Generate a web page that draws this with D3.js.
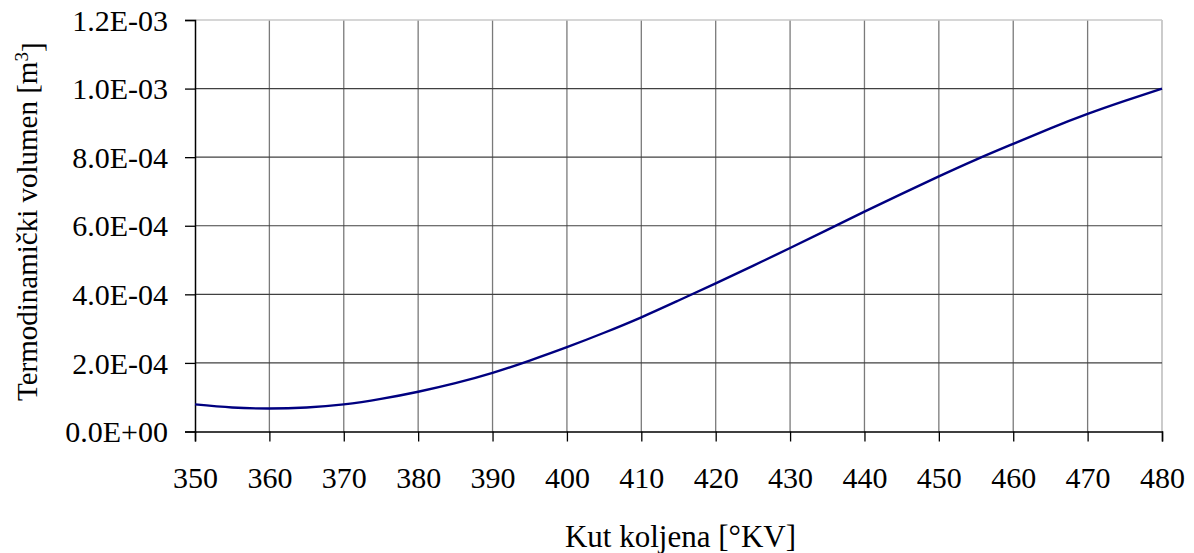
<!DOCTYPE html>
<html>
<head>
<meta charset="utf-8">
<script src="https://cdnjs.cloudflare.com/ajax/libs/d3/7.8.5/d3.min.js"></script>
<style>
  body { margin: 0; background: #fff; }
  text { font-family: "Liberation Serif", "Times New Roman", serif; fill: #000; }
</style>
</head>
<body>
<div id="chart"></div>
<script>
// crank angle [°KV]
const angles = [350, 355, 360, 365, 370, 375, 380, 385, 390, 395, 400, 405, 410, 415,
                420, 425, 430, 435, 440, 445, 450, 455, 460, 465, 470, 475, 480];
// thermodynamic volume [m3]
const volumes = [7.9e-5, 7.0e-5, 6.7e-5, 7.0e-5, 7.9e-5, 9.5e-5, 1.16e-4, 1.41e-4, 1.71e-4,
                 2.07e-4, 2.46e-4, 2.88e-4, 3.33e-4, 3.82e-4, 4.32e-4, 4.83e-4, 5.35e-4,
                 5.88e-4, 6.41e-4, 6.93e-4, 7.44e-4, 7.93e-4, 8.39e-4, 8.84e-4, 9.26e-4,
                 9.64e-4, 1.0e-3];
const xTicks = d3.range(350, 481, 10);
const yTicks = [0, 2e-4, 4e-4, 6e-4, 8e-4, 1.0e-3, 1.2e-3];

const width = 1194, height = 553;
const margin = {top: 20, right: 32, bottom: 122, left: 195};

const svg = d3.select("#chart").append("svg")
    .attr("width", width)
    .attr("height", height);

const x = d3.scaleLinear().domain([350, 480]).range([margin.left, width - margin.right]);
const y = d3.scaleLinear().domain([0, 1.2e-3]).range([height - margin.bottom + 0.5, margin.top]);

const fmt = v => {
    const [m, e] = v.toExponential(1).split("e");
    const n = +e;
    return m + "E" + (n < 0 ? "-" : "+") + String(Math.abs(n)).padStart(2, "0");
};

// vertical grid
svg.append("g")
    .selectAll("line")
    .data(xTicks.slice(1))
    .enter().append("line")
    .attr("x1", d => x(d)).attr("x2", d => x(d))
    .attr("y1", y(1.2e-3)).attr("y2", y(0))
    .style("stroke", d => d === 480 ? "#b0b0b0" : "#7a7a7a")
    .style("stroke-width", 1.3);

// horizontal grid
svg.append("g")
    .selectAll("line")
    .data(yTicks.slice(1))
    .enter().append("line")
    .attr("x1", x(350)).attr("x2", x(480))
    .attr("y1", d => y(d)).attr("y2", d => y(d))
    .style("stroke", d => d === 1.2e-3 ? "#c8c8c8" : "#404040")
    .style("stroke-width", d => d === 1.2e-3 ? 1.5 : 1.2);

// axes
const xAxis = svg.append("g")
    .attr("transform", `translate(0,${y(0)})`)
    .call(d3.axisBottom(x).tickValues(xTicks).tickSize(10).tickPadding(25).tickFormat(d3.format("d")));
const yAxis = svg.append("g")
    .attr("transform", `translate(${x(350)},0)`)
    .call(d3.axisLeft(y).tickValues(yTicks).tickSize(10).tickPadding(17).tickFormat(fmt));

[xAxis, yAxis].forEach(a => {
    a.select(".domain").style("stroke", "#000").style("stroke-width", 1.5);
    a.selectAll(".tick line").style("stroke", "#000").style("stroke-width", 1.3);
    a.selectAll(".tick text")
        .style("font-family", "'Liberation Serif', 'Times New Roman', serif")
        .style("font-size", "30px")
        .style("fill", "#000");
});
yAxis.selectAll(".tick text").attr("dy", "0.34em");

// curve
const line = d3.line()
    .x((d, i) => x(angles[i]))
    .y(d => y(d))
    .curve(d3.curveNatural);

svg.append("path")
    .datum(volumes)
    .attr("d", line)
    .style("fill", "none")
    .style("stroke", "#000080")
    .style("stroke-width", 2.4);

// axis titles
svg.append("text")
    .attr("x", (x(350) + x(480)) / 2 + 2)
    .attr("y", 547)
    .attr("text-anchor", "middle")
    .style("font-size", "31px")
    .text("Kut koljena [°KV]");

const yt = svg.append("text")
    .attr("transform", `translate(37,${(y(0) + y(1.2e-3)) / 2 - 4}) rotate(-90)`)
    .attr("text-anchor", "middle")
    .style("font-size", "29px");
yt.append("tspan").text("Termodinamički volumen [m");
yt.append("tspan").attr("dy", "-0.45em").style("font-size", "19px").text("3");
yt.append("tspan").attr("dy", "0.45em").text("]");
</script>
</body>
</html>
